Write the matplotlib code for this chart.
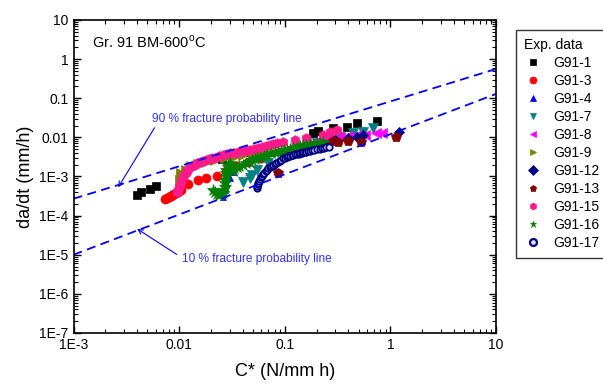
import numpy as np
import matplotlib.pyplot as plt
from matplotlib.lines import Line2D

plt.rcParams['font.family'] = ['Liberation Sans', 'DejaVu Sans']
plt.rcParams['mathtext.fontset'] = 'custom'
plt.rcParams['mathtext.rm'] = 'Liberation Sans'

# C* (N/mm h) and da/dt (mm/h) per specimen
c_g91_1 = [0.0040, 0.0044, 0.0053, 0.0060, 0.0256, 0.0325, 0.0445, 0.186, 0.207, 0.283, 0.384, 0.484, 0.748]
v_g91_1 = [3.4e-4, 4.0e-4, 4.8e-4, 5.6e-4, 2.8e-3, 3.8e-3, 4.35e-3, 0.0128, 0.0147, 0.0172, 0.0185, 0.023, 0.0264]

c_g91_3 = [0.0074, 0.0077, 0.0080, 0.0083, 0.0086, 0.0089, 0.0093, 0.0098, 0.0105, 0.0122, 0.0152, 0.018,
           0.0226, 0.028, 0.035, 0.045, 0.06]
v_g91_3 = [2.6e-4, 2.8e-4, 3.0e-4, 3.2e-4, 3.4e-4, 3.6e-4, 3.8e-4, 4.1e-4, 4.6e-4, 6.5e-4, 7.9e-4, 9.1e-4,
           1.0e-3, 1.4e-3, 1.8e-3, 2.3e-3, 2.9e-3]

c_g91_4 = [0.026, 0.027, 0.028, 0.030, 0.033, 0.037, 0.043, 0.050, 0.060, 0.075, 0.090, 0.11, 0.13, 0.16, 0.20, 0.25]
v_g91_4 = [3.0e-4, 4.5e-4, 6.5e-4, 9.0e-4, 1.3e-3, 1.8e-3, 2.4e-3, 2.9e-3, 3.4e-3, 4.0e-3, 4.5e-3, 5.1e-3,
           5.6e-3, 6.2e-3, 6.8e-3, 7.4e-3]

c_g91_7 = [0.040, 0.047, 0.049, 0.054, 0.07, 0.10, 0.15, 0.20, 0.248, 0.327, 0.444, 0.552, 0.686]
v_g91_7 = [7.4e-4, 9.1e-4, 1.1e-3, 1.48e-3, 2.2e-3, 3.2e-3, 5.0e-3, 7.0e-3, 9.5e-3, 0.0105, 0.0128, 0.0141, 0.0172]

c_g91_8 = [0.12, 0.16, 0.20, 0.26, 0.33, 0.40, 0.48, 0.573, 0.728, 0.84]
v_g91_8 = [6.0e-3, 7.2e-3, 8.2e-3, 9.2e-3, 0.0100, 0.0106, 0.0112, 0.0116, 0.0133, 0.0133]

c_g91_9 = [0.0102, 0.0105, 0.0115, 0.013, 0.015, 0.018, 0.022, 0.027, 0.033, 0.040, 0.050, 0.062]
v_g91_9 = [8.3e-4, 1.2e-3, 1.5e-3, 1.8e-3, 2.1e-3, 2.4e-3, 2.6e-3, 2.9e-3, 3.2e-3, 3.5e-3, 3.9e-3, 4.3e-3]

c_g91_12 = [0.30, 0.40, 0.48, 0.55, 1.21]
v_g91_12 = [8.5e-3, 9.5e-3, 0.0105, 0.0112, 0.0141]

c_g91_13 = [0.087, 0.10, 0.12, 0.15, 0.19, 0.23, 0.286, 0.32, 0.398, 0.525, 1.12]
v_g91_13 = [1.22e-3, 3.8e-3, 4.2e-3, 5.0e-3, 5.8e-3, 6.8e-3, 7.9e-3, 7.8e-3, 8.3e-3, 7.8e-3, 0.0105]

c_g91_15 = [0.0096, 0.0098, 0.0100, 0.0102, 0.0104, 0.0106, 0.0109, 0.0112, 0.0115, 0.0118, 0.0122, 0.0127,
            0.0133, 0.0140, 0.0148, 0.0157, 0.0167, 0.0178, 0.019, 0.0205, 0.022, 0.024, 0.026, 0.028, 0.0302,
            0.033, 0.036, 0.040, 0.0435, 0.0468, 0.051, 0.056, 0.061, 0.066, 0.072, 0.078, 0.085, 0.097,
            0.125, 0.16, 0.23, 0.27, 0.31]
v_g91_15 = [4.1e-4, 4.6e-4, 5.3e-4, 6.2e-4, 7.2e-4, 8.3e-4, 9.6e-4, 1.1e-3, 1.25e-3, 1.4e-3, 1.55e-3, 1.7e-3,
            1.85e-3, 2.0e-3, 2.15e-3, 2.3e-3, 2.45e-3, 2.6e-3, 2.75e-3, 2.9e-3, 3.05e-3, 3.25e-3, 3.45e-3, 3.65e-3, 3.9e-3,
            4.05e-3, 4.25e-3, 4.45e-3, 4.65e-3, 4.8e-3, 5.1e-3, 5.4e-3, 5.8e-3, 6.1e-3, 6.5e-3, 6.9e-3, 7.3e-3, 7.6e-3,
            8.6e-3, 9.5e-3, 0.0117, 0.0135, 0.0152]

c_g91_16 = [0.021, 0.022, 0.023, 0.024, 0.025, 0.026, 0.026, 0.027, 0.027, 0.027, 0.028, 0.028, 0.028, 0.029,
            0.029, 0.030, 0.031, 0.032, 0.033, 0.035, 0.037, 0.040, 0.043, 0.046, 0.049, 0.052, 0.055, 0.058,
            0.063, 0.068, 0.074, 0.080, 0.086, 0.092, 0.098, 0.104, 0.112, 0.12, 0.13, 0.14, 0.15, 0.16, 0.173,
            0.186, 0.20, 0.215, 0.23]
v_g91_16 = [4.6e-4, 4.0e-4, 3.6e-4, 3.4e-4, 3.5e-4, 3.8e-4, 4.6e-4, 5.5e-4, 6.8e-4, 8.0e-4, 1.0e-3, 1.2e-3, 1.45e-3,
            1.7e-3, 2.0e-3, 2.2e-3, 1.5e-3, 1.35e-3, 1.6e-3, 1.7e-3, 1.85e-3, 2.0e-3, 2.2e-3, 2.4e-3, 2.6e-3,
            2.8e-3, 2.95e-3, 3.1e-3, 3.35e-3, 3.6e-3, 3.9e-3, 4.15e-3, 4.35e-3, 4.55e-3, 4.7e-3, 4.85e-3, 5.1e-3,
            5.4e-3, 5.7e-3, 6.0e-3, 6.25e-3, 6.5e-3, 6.7e-3, 6.9e-3, 7.1e-3, 7.3e-3, 7.4e-3]

c_g91_17 = [0.054, 0.0545, 0.0553, 0.0562, 0.0570, 0.058, 0.0592, 0.0607, 0.0623, 0.064, 0.066, 0.068, 0.0697,
            0.072, 0.074, 0.0765, 0.0779, 0.080, 0.083, 0.086, 0.09, 0.093, 0.097, 0.101, 0.104, 0.108, 0.111,
            0.116, 0.12, 0.125, 0.13, 0.135, 0.139, 0.145, 0.15, 0.155, 0.16, 0.166, 0.172, 0.18, 0.19, 0.2,
            0.215, 0.225, 0.235, 0.248, 0.26]
v_g91_17 = [5.0e-4, 5.6e-4, 6.3e-4, 7.0e-4, 7.8e-4, 8.6e-4, 9.5e-4, 1.05e-3, 1.15e-3, 1.25e-3, 1.35e-3, 1.45e-3, 1.6e-3,
            1.7e-3, 1.8e-3, 1.9e-3, 2.0e-3, 2.1e-3, 2.25e-3, 2.4e-3, 2.55e-3, 2.7e-3, 2.9e-3, 3.05e-3, 3.15e-3,
            3.25e-3, 3.35e-3, 3.45e-3, 3.55e-3, 3.65e-3, 3.75e-3, 3.85e-3, 3.95e-3, 4.05e-3, 4.15e-3, 4.25e-3,
            4.35e-3, 4.45e-3, 4.55e-3, 4.65e-3, 4.8e-3, 4.95e-3, 5.1e-3, 5.25e-3, 5.4e-3, 5.6e-3, 5.8e-3]

# fracture probability lines (end points)
line_c = [1e-3, 10]
line_90 = [2.7e-4, 0.56]
line_10 = [1.0e-5, 0.129]

x_ticks = [1e-3, 1e-2, 1e-1, 1, 10]
x_labels = ['1E-3', '0.01', '0.1', '1', '10']
y_ticks = [1e-7, 1e-6, 1e-5, 1e-4, 1e-3, 1e-2, 1e-1, 1, 10]
y_labels = ['1E-7', '1E-6', '1E-5', '1E-4', '1E-3', '0.01', '0.1', '1', '10']

series = [
    ('G91-1', c_g91_1, v_g91_1, 's', 'black', 'black', 6),
    ('G91-3', c_g91_3, v_g91_3, 'o', 'red', 'red', 6.5),
    ('G91-4', c_g91_4, v_g91_4, '^', 'blue', 'blue', 5),
    ('G91-7', c_g91_7, v_g91_7, 'v', '#008080', '#008080', 6.5),
    ('G91-8', c_g91_8, v_g91_8, '<', '#ff00ff', '#ff00ff', 6.5),
    ('G91-9', c_g91_9, v_g91_9, '>', '#808000', '#808000', 6.5),
    ('G91-12', c_g91_12, v_g91_12, 'D', '#000080', '#000080', 5.5),
    ('G91-13', c_g91_13, v_g91_13, 'p', '#800000', '#800000', 7),
    ('G91-15', c_g91_15, v_g91_15, 'h', '#ff1a8c', '#ff1a8c', 7),
    ('G91-16', c_g91_16, v_g91_16, '*', '#008000', '#008000', 9),
    ('G91-17', c_g91_17, v_g91_17, 'o', '#e0e0ff', '#000080', 4.6),
]

fig = plt.figure(figsize=(6.03, 3.85), dpi=100)
ax = fig.add_axes([0.1219, 0.1351, 0.7008, 0.813])

handles = []
for name, cx, vy, mk, fc, ec, ms in series:
    mew = 1.3 if name == 'G91-17' else 0.5
    ax.plot(cx, vy, linestyle='none', marker=mk, markersize=ms, markerfacecolor=fc,
            markeredgecolor=ec, markeredgewidth=mew)
    handles.append(Line2D([], [], linestyle='none', marker=mk, markersize=5, markerfacecolor=fc,
                          markeredgecolor=ec, markeredgewidth=1.6 if name == 'G91-17' else 0.5, label=name))

ax.plot(line_c, line_90, color='blue', linestyle=(0, (5, 3)), linewidth=1.3)
ax.plot(line_c, line_10, color='blue', linestyle=(0, (5, 3)), linewidth=1.3)

ax.annotate('90 % fracture probability line', xy=(0.00265, 5.3e-4), xytext=(0.0055, 0.0295),
            color='#3333ff', fontsize=8.6, va='center', ha='left',
            arrowprops=dict(arrowstyle='->', color='blue', lw=0.8, shrinkA=0, shrinkB=0,
                            relpos=(0.03, 0.0)))
ax.annotate('10 % fracture probability line', xy=(0.0040, 4.6e-5), xytext=(0.0106, 7.8e-6),
            color='#3333ff', fontsize=8.6, va='center', ha='left',
            arrowprops=dict(arrowstyle='->', color='blue', lw=0.8, shrinkA=2, shrinkB=0,
                            relpos=(0.0, 0.6)))

ax.text(0.0015, 2.76, r'Gr. 91 BM-600$^\mathrm{o}$C', fontsize=10.5, va='center', ha='left')

ax.set_xscale('log')
ax.set_yscale('log')
ax.set_xlim(1e-3, 10)
ax.set_ylim(1e-7, 10)
ax.set_xticks(x_ticks)
ax.set_xticklabels(x_labels)
ax.set_yticks(y_ticks)
ax.set_yticklabels(y_labels)
ax.tick_params(which='both', direction='in', top=True, right=True, labelsize=10)
ax.tick_params(which='major', length=5, width=1)
ax.tick_params(which='minor', length=3, width=0.8)
for sp in ax.spines.values():
    sp.set_linewidth(1.2)

ax.set_xlabel('C* (N/mm h)', fontsize=13, labelpad=8)
ax.set_ylabel('da/dt (mm/h)', fontsize=13, labelpad=4)

leg = fig.legend(handles=handles, title='Exp. data', loc='upper left',
                 bbox_to_anchor=(509 / 603, 1 - 23 / 385), fontsize=10, title_fontsize=10,
                 frameon=True, fancybox=False, edgecolor='black', labelspacing=0.29,
                 handletextpad=0.7, borderpad=0.55, handlelength=1.4, alignment='left')
leg.get_frame().set_linewidth(1.0)

fig.savefig('out.png', dpi=100)
